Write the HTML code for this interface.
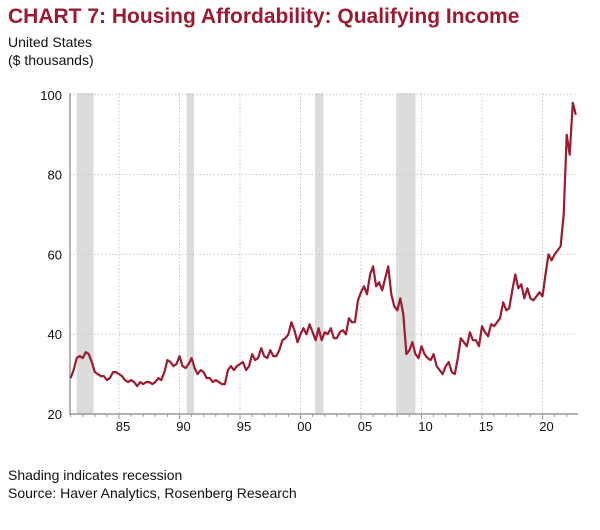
<!DOCTYPE html>
<html><head><meta charset="utf-8"><style>
body{margin:0;background:#fff;width:600px;height:530px;overflow:hidden;font-family:"Liberation Sans",sans-serif}
.t{position:absolute;left:8px;margin:0}
</style></head><body>
<div class="t" style="top:5px;font-size:21px;font-weight:bold;color:#9b1b30">CHART 7: Housing Affordability: Qualifying Income</div>
<div class="t" style="top:34px;font-size:14px;color:#111">United States</div>
<div class="t" style="top:52px;font-size:14px;color:#111">($ thousands)</div>
<div class="t" style="top:467px;font-size:14px;color:#111">Shading indicates recession</div>
<div class="t" style="top:485px;font-size:14px;color:#111">Source: Haver Analytics, Rosenberg Research</div>
<svg id="c" width="600" height="530" style="position:absolute;left:0;top:0"></svg>
<script>
const recessions=[[1981.5,1982.9],[1990.6,1991.2],[2001.2,2001.9],[2007.9,2009.5]];
const yTicks=[20,40,60,80,100];
const xTickYears=[1985,1990,1995,2000,2005,2010,2015,2020];
const xTickLabels=["85","90","95","00","05","10","15","20"];
const startYear=1981;
const values=[29,31,34,34.5,34,35.5,35,33,30.5,30,29.5,29.5,28.5,29,30.5,30.5,30,29.5,28.5,28,28.5,28,27,28,27.5,28,28,27.5,28,29,28.5,30.5,33.5,33,32,32.5,34.5,32,31.5,32.5,34,31.5,30,31,30.5,29,29,28,28.5,28,27.5,27.5,31,32,31,32,32.5,33,31,32,35,33.5,34,36.5,34.5,34,36,34.5,34.5,36,38.5,39,40,43,41,38,40,41.5,40,42.5,40.5,38.5,41.5,38.5,40.5,40,41.5,39,39,40.5,41,40,44,43,43,48.5,50.5,52,50,55,57,52,53,51,54,57,50,47,46,49,45,35,36,38,35,34,37,35,34,33.5,35,32,31,30,32,33,30.5,30,34,39,38,37,40.5,38.5,38.5,37,42,40.5,39.5,42.5,42,43,44,48,46,46.5,51,55,51.5,52.5,49,51.5,49,48.5,49.5,50.5,49.5,55,60,58.5,60,61,62,70,90,85,98,95];
const svg=document.getElementById('c');const NS='http://www.w3.org/2000/svg';
const L=70,R=578,T=93,B=414;
const x=yr=>119+(yr-1985)*12.1;
const y=v=>414-(v-20)*3.99;
function mk(t,a,p){const e=document.createElementNS(NS,t);for(const k in a)e.setAttribute(k,a[k]);(p||svg).appendChild(e);return e;}
recessions.forEach(r=>{const e=mk('rect',{x:x(r[0]),y:T,width:x(r[1])-x(r[0]),height:B-T,fill:'#dcdcdc'});

});
yTicks.forEach(v=>{if(v>20){const g=mk('line',{x1:L,x2:R,y1:y(v),y2:y(v),stroke:'#c8c8c8','stroke-dasharray':'1.5,2'});

}
const t=mk('text',{x:62,y:y(v)+5,'text-anchor':'end','font-size':'13','fill':'#111','font-family':'Liberation Sans, sans-serif'});t.textContent=v;

});
xTickYears.forEach((yr,i)=>{const g=mk('line',{x1:x(yr),x2:x(yr),y1:T,y2:B,stroke:'#c8c8c8','stroke-dasharray':'1.5,2'});


const t=mk('text',{x:x(yr)+4,y:B+17,'text-anchor':'middle','font-size':'13','fill':'#111','font-family':'Liberation Sans, sans-serif'});t.textContent=xTickLabels[i];

});
for(let yr=1981;yr<=2022;yr++){const k=mk('line',{x1:x(yr),x2:x(yr),y1:B,y2:B+(yr%5===0?5:3),stroke:'#999'});

}
const ax=mk('path',{d:`M${L},${T} V${B} H${R}`,stroke:'#999',fill:'none','stroke-width':1.5});


const pts=values.map((v,i)=>`${x(startYear+i*0.25).toFixed(1)},${y(v).toFixed(1)}`).join(' ');
const pl=mk('polyline',{points:pts,fill:'none',stroke:'#9b1b30','stroke-width':2.2,'stroke-linejoin':'round'});


</script>
</body></html>
